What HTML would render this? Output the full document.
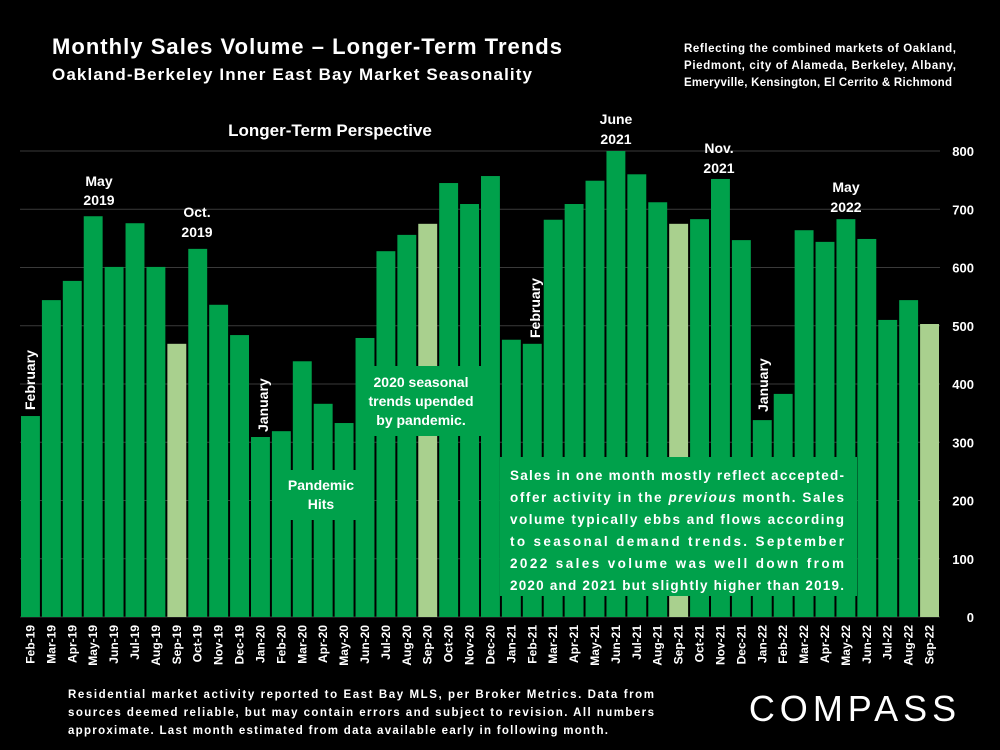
<!DOCTYPE html>
<html><head><meta charset="utf-8"><style>
body{margin:0;background:#000;width:1000px;height:750px;overflow:hidden;font-family:"Liberation Sans",sans-serif;color:#fff}
svg{position:absolute;left:0;top:0}
</style></head><body>
<svg width="1000" height="750">
<text x="52" y="54" font-size="22" font-weight="bold" fill="#fff" textLength="510">Monthly Sales Volume – Longer-Term Trends</text>
<text x="52" y="80" font-size="17" font-weight="bold" fill="#fff" textLength="480">Oakland-Berkeley Inner East Bay Market Seasonality</text>
<g font-size="11.5" font-weight="bold" fill="#fff">
<text x="684" y="52" textLength="272">Reflecting the combined markets of Oakland,</text>
<text x="684" y="69" textLength="272">Piedmont, city of Alameda, Berkeley, Albany,</text>
<text x="684" y="86" textLength="268">Emeryville, Kensington, El Cerrito &amp; Richmond</text>
</g>
<g id="grid"></g>
<g id="bars"></g>
<g id="xlabels"></g>
<g id="ylabels"></g>
<text x="330" y="136" font-size="17" font-weight="bold" fill="#fff" text-anchor="middle">Longer-Term Perspective</text>
<g font-size="14" font-weight="bold" fill="#fff" text-anchor="middle">
<text x="99" y="186">May</text><text x="99" y="205">2019</text>
<text x="197" y="217">Oct.</text><text x="197" y="237">2019</text>
<text x="616" y="124">June</text><text x="616" y="144">2021</text>
<text x="719" y="153">Nov.</text><text x="719" y="173">2021</text>
<text x="846" y="192">May</text><text x="846" y="212">2022</text>
</g>
<g font-size="14" font-weight="bold" fill="#fff">
<text transform="translate(35,410) rotate(-90)">February</text>
<text transform="translate(268,432) rotate(-90)">January</text>
<text transform="translate(540,338) rotate(-90)">February</text>
<text transform="translate(768,412) rotate(-90)">January</text>
</g>
<rect x="357" y="366" width="128" height="70" fill="#00a14b"/>
<g font-size="14" font-weight="bold" fill="#fff" text-anchor="middle">
<text x="421" y="387">2020 seasonal</text><text x="421" y="406">trends upended</text><text x="421" y="425">by pandemic.</text>
</g>
<rect x="278" y="470" width="86" height="50" fill="#00a14b"/>
<g font-size="14" font-weight="bold" fill="#fff" text-anchor="middle">
<text x="321" y="490">Pandemic</text><text x="321" y="509">Hits</text>
</g>
<rect x="500" y="457" width="357" height="139" fill="#00a14b"/>
<g font-size="13.5" font-weight="bold" fill="#fff">
<text x="510" y="480" textLength="334">Sales in one month mostly reflect accepted-</text>
<text x="510" y="502" textLength="334">offer activity in the <tspan font-style="italic">previous</tspan> month. Sales</text>
<text x="510" y="524" textLength="334">volume typically ebbs and flows according</text>
<text x="510" y="546" textLength="334">to seasonal demand trends. September</text>
<text x="510" y="568" textLength="334">2022 sales volume was well down from</text>
<text x="510" y="590" textLength="334">2020 and 2021 but slightly higher than 2019.</text>
</g>
<g font-size="11.5" font-weight="bold" fill="#fff">
<text x="68" y="698" textLength="586">Residential market activity reported to East Bay MLS, per Broker Metrics. Data from</text>
<text x="68" y="716" textLength="586">sources deemed reliable, but may contain errors and subject to revision. All numbers</text>
<text x="68" y="734" textLength="540">approximate. Last month estimated from data available early in following month.</text>
</g>
<text x="855" y="721" font-size="36" fill="#fff" text-anchor="middle" letter-spacing="5">COMPASS</text>
</svg>
<script>
const categories=["Feb-19","Mar-19","Apr-19","May-19","Jun-19","Jul-19","Aug-19","Sep-19","Oct-19","Nov-19","Dec-19","Jan-20","Feb-20","Mar-20","Apr-20","May-20","Jun-20","Jul-20","Aug-20","Sep-20","Oct-20","Nov-20","Dec-20","Jan-21","Feb-21","Mar-21","Apr-21","May-21","Jun-21","Jul-21","Aug-21","Sep-21","Oct-21","Nov-21","Dec-21","Jan-22","Feb-22","Mar-22","Apr-22","May-22","Jun-22","Jul-22","Aug-22","Sep-22"];
const salesValues=[345,544,577,688,601,676,601,469,632,536,484,309,319,439,366,333,479,628,656,675,745,709,757,476,469,682,709,749,800,760,712,675,683,752,647,338,383,664,644,683,649,510,544,503];
const highlighted=["Sep-19","Sep-20","Sep-21","Sep-22"];
const yTicks=[0,100,200,300,400,500,600,700,800];
const NS="http://www.w3.org/2000/svg";
const X0=20,X1=940,Y0=617,Y1=151,YMAX=800;
const step=(X1-X0)/categories.length;
function xPos(i){return X0+i*step;}
function yPos(v){return Y0-(v/YMAX)*(Y0-Y1);}
const grid=document.getElementById('grid'),yl=document.getElementById('ylabels');
yTicks.forEach(t=>{
 const l=document.createElementNS(NS,'line');
 l.setAttribute('x1',X0);l.setAttribute('x2',X1);l.setAttribute('y1',yPos(t));l.setAttribute('y2',yPos(t));
 l.setAttribute('stroke','#3a3a3a');l.setAttribute('stroke-width','1');
 
 
 grid.appendChild(l);
 const tx=document.createElementNS(NS,'text');
 tx.setAttribute('x',974);tx.setAttribute('y',yPos(t)+5);tx.setAttribute('text-anchor','end');
 tx.setAttribute('font-size','13');tx.setAttribute('font-weight','bold');tx.setAttribute('fill','#fff');
 tx.textContent=t;
 
 
 yl.appendChild(tx);
});
const bars=document.getElementById('bars'),xl=document.getElementById('xlabels');
categories.forEach((c,i)=>{
 const r=document.createElementNS(NS,'rect');
 const y=yPos(salesValues[i]);
 r.setAttribute('x',xPos(i)+1);r.setAttribute('width',step-2);
 r.setAttribute('y',y);r.setAttribute('height',Y0-y);
 r.setAttribute('fill',highlighted.includes(c)?'#a9d08e':'#00a14b');
 
 
 bars.appendChild(r);
 const t=document.createElementNS(NS,'text');
 const cx=xPos(i)+step/2+4;
 t.setAttribute('transform','translate('+cx+',625) rotate(-90)');
 t.setAttribute('text-anchor','end');t.setAttribute('font-size','12');t.setAttribute('font-weight','bold');t.setAttribute('fill','#fff');
 t.textContent=c;
 
 
 xl.appendChild(t);
});
</script>
</body></html>
